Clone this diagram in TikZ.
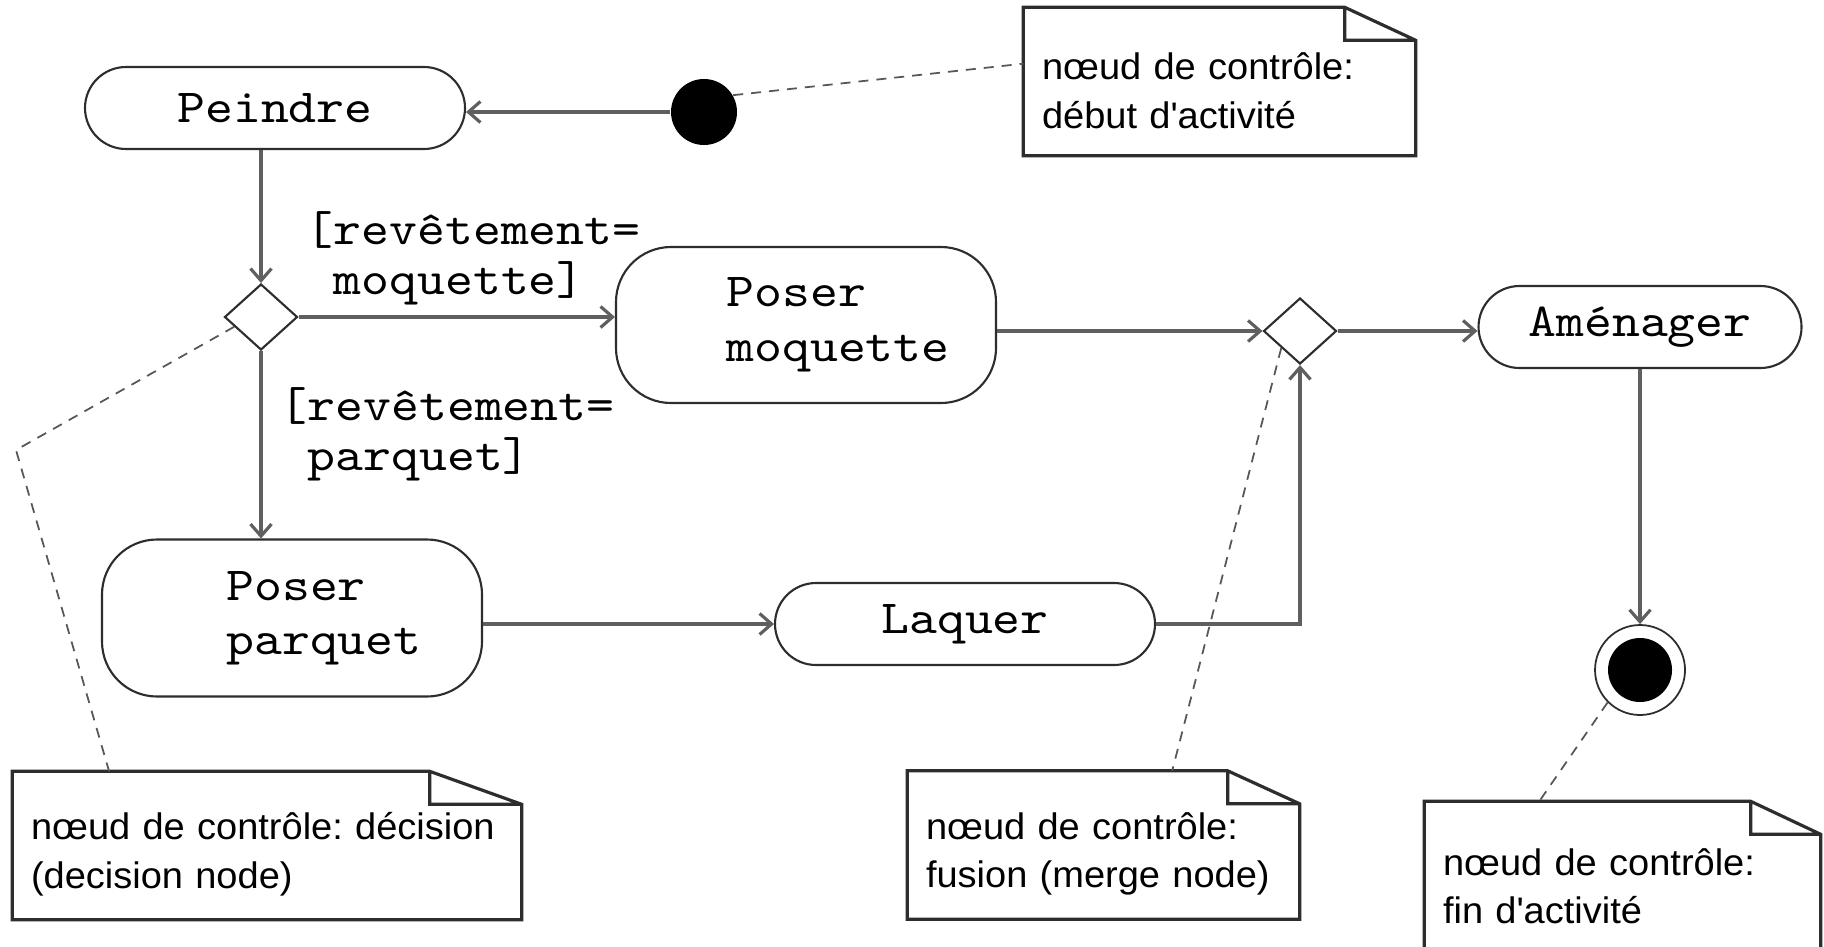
\documentclass[tikz,border=0pt]{standalone}
\usepackage{fontspec}
\newfontfamily\notefont{Liberation Sans}[FakeStretch=1.03]
\newfontfamily\actfont{lmmono10-regular.otf}[FakeStretch=1.12]
\usetikzlibrary{arrows.meta,positioning,shapes.geometric,calc}
\definecolor{ink}{RGB}{45,45,45}
\definecolor{wire}{RGB}{95,95,95}
\tikzset{
  >={Straight Barb[length=1.2mm,width=2.1mm]},
  act/.style={draw=ink,line width=0.6pt,rounded corners=#1,minimum width=38mm,
    minimum height=8.2mm,align=left,font=\actfont\fontsize{13.5}{15.5}\selectfont},
  act/.default=4.1mm,
  choice/.style={diamond,draw=ink,line width=0.6pt,inner sep=0pt,
    minimum width=7.3mm,minimum height=6.6mm},
  guard/.style={anchor=north west,inner sep=0pt,align=left,
    font=\actfont\fontsize{13.5}{14.2}\selectfont},
  flow/.style={->,line width=0.9pt,draw=wire},
  initnode/.style={circle,fill=black,inner sep=0pt,minimum size=6.6mm},
  finalnode/.style={circle,draw=ink,line width=0.5pt,inner sep=0pt,minimum size=9mm,
    path picture={\fill (path picture bounding box.center) circle (3.2mm);}},
  note/.style={minimum width=#1,minimum height=14.7mm,inner xsep=1.8mm,
    text width=#1-3.6mm,align=left,font=\notefont\fontsize{10.5}{13.8}\selectfont,
    execute at begin node={\hyphenpenalty=10000\rule{0pt}{4.5mm}}},
  noteline/.style={draw=ink,line width=0.9pt},
  link/.style={draw=ink!80,line width=0.5pt,dash pattern=on 1mm off 0.8mm},
}
\begin{document}
\begin{tikzpicture}[x=0.1mm,y=-0.1mm]
  \useasboundingbox[fill=white] (0,0) rectangle (1824,946);
  % actions
  \node[act] (peindre) at (275,108) {Peindre};
  \node[act=5.5mm,minimum height=15.6mm] (moquette) at (806,325) {\hspace*{6.4mm}Poser\\\hspace*{6.4mm}moquette};
  \node[act=5.5mm,minimum height=15.7mm] (parquet) at (292,618) {\hspace*{6.4mm}Poser\\\hspace*{6.4mm}parquet};
  \node[act] (laquer) at (965,624) {Laquer};
  \node[act,minimum width=32.3mm] (amenager) at (1640,327) {Aménager};
  % control nodes
  \node[initnode] (init) at (704,112) {};
  \node[choice] (decision) at (261,317) {};
  \node[choice] (merge) at (1300,331) {};
  \node[finalnode] (fin) at (1640,670) {};
  % guards
  \node[guard] (gmoq) at (305,211) {[revêtement=\\~moquette]};
  \node[guard] (gparq) at (279,387) {[revêtement=\\~parquet]};
  % flows
  \draw[flow] (init) -- (init -| peindre.east);
  \draw[flow] (decision.north |- peindre.south) -- (decision.north);
  \draw[flow] (decision.east) -- (decision.east -| moquette.west);
  \draw[flow] (decision.south) -- (decision.south |- parquet.north);
  \draw[flow] (parquet.east |- laquer.west) -- (laquer.west);
  \draw[flow] (laquer.east) -| (merge.south);
  \draw[flow] (moquette.east |- merge.west) -- (merge.west);
  \draw[flow] (merge.east) -- (merge.east -| amenager.west);
  \draw[flow] (amenager.south) -- (fin.north);
  % notes
  \node[note=39.1mm] (startnote) at (1219.5,81.5) {nœud de contrôle:\\début d\textquotesingle activité};
  \node[note=50.8mm] (decnote) at (267,845.5) {nœud de contrôle:~décision\\(decision node)};
  \node[note=39.1mm] (mergenote) at (1103.5,845) {nœud de contrôle:\\fusion (merge node)};
  \node[note=39.5mm,minimum height=15mm] (endnote) at (1622.5,877) {nœud de contrôle:\\fin d\textquotesingle activité};
  \foreach \n/\e in {startnote/7.1mm,decnote/9.2mm,mergenote/7.2mm,endnote/7mm}
    \draw[noteline] (\n.north west) -- ([xshift=-\e]\n.north east)
      -- ([yshift=-3.3mm]\n.north east) -- (\n.south east) -- (\n.south west) -- cycle
      ([xshift=-\e]\n.north east) |- ([yshift=-3.3mm]\n.north east);
  % note links
  \coordinate (bend) at (16,450);
  \draw[link] (init.30) -- ($(startnote.north west)!0.38!(startnote.south west)$);
  \draw[link] (decision.200) -- (bend) -- ($(decnote.north west)!0.19!(decnote.north east)$);
  \draw[link] (merge.south west) -- ($(mergenote.north west)!0.675!(mergenote.north east)$);
  \draw[link] (fin.225) -- ($(endnote.north west)!0.29!(endnote.north east)$);
\end{tikzpicture}
\end{document}
